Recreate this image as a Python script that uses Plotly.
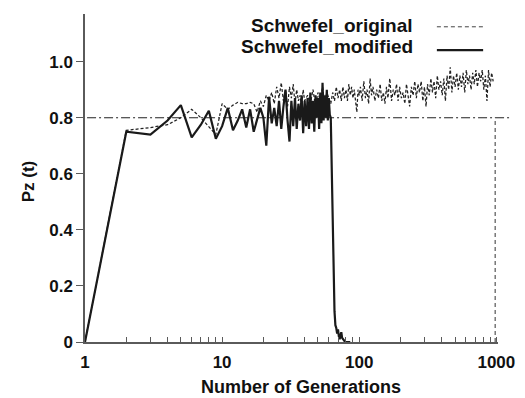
import plotly.graph_objects as go

# ---------------- data ----------------
gens_modified = list(range(1, 87))
pz_modified = [
    0.0, 0.75, 0.74, 0.79, 0.845, 0.73, 0.775, 0.825, 0.725, 0.77,
    0.835, 0.755, 0.79, 0.83, 0.765, 0.83, 0.75, 0.79, 0.835, 0.80,
    0.70, 0.875, 0.78, 0.835, 0.77, 0.86, 0.76, 0.84, 0.90, 0.79,
    0.715, 0.86, 0.77, 0.87, 0.76, 0.85, 0.79, 0.88, 0.745, 0.86,
    0.77, 0.87, 0.76, 0.89, 0.78, 0.86, 0.75, 0.88, 0.80, 0.87,
    0.76, 0.89, 0.78, 0.925, 0.79, 0.88, 0.80, 0.90, 0.79, 0.87,
    0.81, 0.80, 0.60, 0.40, 0.22, 0.11, 0.06, 0.05, 0.03, 0.045,
    0.02, 0.01, 0.025, 0.035, 0.015, 0.01, 0.005, 0.0, 0.0, 0.0,
    0.0, 0.0, 0.0, 0.0, 0.0, 0.0,
]

gens_original = [
    1, 2, 3, 4, 5, 6, 7, 8, 9, 10,
    11, 12, 13, 14, 15, 16, 17, 18, 19, 20,
    21, 22, 23, 24, 25, 26, 27, 28, 29, 30,
    31, 32, 33, 34, 35, 36, 37, 38, 39, 40,
    42, 44, 46, 48, 50, 52, 54, 56, 58, 60,
    62, 64, 66, 68, 70, 72, 74, 76, 78, 80,
    82, 84, 86, 88, 90, 92, 94, 96, 98, 100,
    102, 105, 108, 111, 114, 117, 120, 123, 126, 130,
    134, 138, 142, 146, 150, 154, 158, 162, 167, 172,
    177, 182, 187, 192, 197, 203, 209, 215, 221, 227,
    233, 240, 247, 254, 261, 268, 275, 283, 291, 299,
    307, 315, 324, 333, 342, 351, 361, 371, 381, 392,
    403, 414, 425, 437, 449, 461, 474, 487, 500, 514,
    528, 542, 557, 572, 588, 604, 620, 637, 654, 672,
    690, 709, 728, 748, 768, 789, 810, 832, 854, 877,
    900, 924, 948,
]
pz_original = [
    0.0, 0.755, 0.765, 0.775, 0.80, 0.83, 0.80, 0.77, 0.74, 0.85,
    0.83, 0.845, 0.855, 0.85, 0.85, 0.855, 0.85, 0.82, 0.86, 0.84,
    0.88, 0.86, 0.89, 0.85, 0.91, 0.87, 0.925, 0.86, 0.90, 0.84,
    0.91, 0.87, 0.92, 0.85, 0.90, 0.86, 0.88, 0.84, 0.90, 0.86,
    0.88, 0.85, 0.90, 0.84, 0.89, 0.86, 0.91, 0.85, 0.89, 0.87,
    0.85, 0.89, 0.86, 0.91, 0.87, 0.90, 0.86, 0.91, 0.87, 0.90,
    0.86, 0.92, 0.88, 0.91, 0.87, 0.90, 0.85, 0.82, 0.90, 0.88,
    0.91, 0.86, 0.93, 0.87, 0.90, 0.85, 0.94, 0.88, 0.91, 0.86,
    0.90, 0.87, 0.92, 0.86, 0.89, 0.85, 0.91, 0.87, 0.94, 0.86,
    0.90, 0.88, 0.92, 0.86, 0.91, 0.87, 0.89, 0.85, 0.92, 0.87,
    0.84, 0.91, 0.88, 0.93, 0.87, 0.92, 0.89, 0.93, 0.86, 0.91,
    0.84, 0.92, 0.88, 0.94, 0.89, 0.93, 0.87, 0.95, 0.90, 0.93,
    0.88, 0.94, 0.86, 0.95, 0.90, 0.98, 0.89, 0.95, 0.91, 0.96,
    0.90, 0.95, 0.91, 0.96, 0.89, 0.97, 0.92, 0.95, 0.90, 0.96,
    0.92, 0.97, 0.91, 0.96, 0.93, 0.97, 0.90, 0.95, 0.86, 0.97,
    0.91, 0.96, 0.93,
]

threshold = 0.8
last_generation = 980

x_tick_vals = [1, 10, 100, 1000]
x_tick_text = ["1", "10", "100", "1000"]
x_minor_vals = [2, 3, 4, 5, 6, 7, 8, 9, 20, 30, 40, 50, 60, 70, 80, 90,
                200, 300, 400, 500, 600, 700, 800, 900]
y_tick_vals = [0, 0.2, 0.4, 0.6, 0.8, 1.0]
y_tick_text = ["0", "0.2", "0.4", "0.6", "0.8", "1.0"]

series_names = ["Schwefel_original", "Schwefel_modified"]

# ---------------- figure ----------------
FONT = "Liberation Sans, Arial, Helvetica, sans-serif"
AXIS_COLOR = "#5a5a5a"

fig = go.Figure()

fig.add_trace(go.Scatter(
    x=gens_original, y=pz_original, mode="lines", name=series_names[0],
    line=dict(color="#222", width=1.25, dash="3px,2px"), showlegend=False,
))
fig.add_trace(go.Scatter(
    x=gens_modified, y=pz_modified, mode="lines", name=series_names[1],
    line=dict(color="#1a1a1a", width=2.2), showlegend=False,
))

# threshold line and final generation marker
fig.add_shape(type="line", xref="paper", yref="y", x0=0.005, x1=1.03,
              y0=threshold, y1=threshold, layer="below",
              line=dict(color="#222", width=1.2, dash="9px,3px,2px,3px"))
fig.add_shape(type="line", xref="x", yref="y", x0=last_generation, x1=last_generation,
              y0=0, y1=threshold, layer="below",
              line=dict(color="#333", width=1, dash="4px,3px"))

# custom legend (text left, sample right)
legend_y = [0.966, 0.902]
for name, yy in zip(series_names, legend_y):
    fig.add_annotation(xref="paper", yref="paper", x=0.80, y=yy, xanchor="right",
                       yanchor="middle", text=name, showarrow=False,
                       font=dict(family=FONT, size=19, color="#111", weight="bold"))
fig.add_shape(type="line", xref="paper", yref="paper", x0=0.852, x1=0.964,
              y0=0.961, y1=0.961, line=dict(color="#444", width=1, dash="4px,3px"))
fig.add_shape(type="line", xref="paper", yref="paper", x0=0.852, x1=0.964,
              y0=0.890, y1=0.890, line=dict(color="#1a1a1a", width=2.2))

# axis titles
fig.add_annotation(xref="paper", yref="paper", x=0.523, y=-0.137, xanchor="center",
                   yanchor="middle", text="Number of Generations", showarrow=False,
                   font=dict(family=FONT, size=18, color="#111", weight="bold"))
fig.add_annotation(xref="paper", yref="paper", x=-0.138, y=0.49, xanchor="center",
                   yanchor="middle", text="Pz (t)", showarrow=False, textangle=-90,
                   font=dict(family=FONT, size=17, color="#111", weight="bold"))

fig.update_layout(
    width=517, height=390,
    margin=dict(l=77, r=27, t=6, b=56),
    paper_bgcolor="white", plot_bgcolor="white",
    font=dict(family=FONT, size=17, color="#111", weight="bold"),
    xaxis=dict(
        type="log", range=[0, 3.012],
        tickvals=x_tick_vals, ticktext=x_tick_text,
        ticks="inside", ticklen=5, tickwidth=1, tickcolor=AXIS_COLOR,
        minor=dict(ticks="inside", ticklen=5, tickwidth=1, tickcolor=AXIS_COLOR,
                   tickvals=x_minor_vals),
        showline=True, linecolor=AXIS_COLOR, linewidth=1.5,
        showgrid=False, zeroline=False, ticklabelstandoff=4,
        tickfont=dict(family=FONT, size=17, color="#111", weight="bold"),
    ),
    yaxis=dict(
        range=[0, 1.17],
        tickvals=y_tick_vals, ticktext=y_tick_text,
        ticks="outside", ticklen=7, tickwidth=1, tickcolor=AXIS_COLOR,
        showline=True, linecolor=AXIS_COLOR, linewidth=1.5,
        showgrid=False, zeroline=False,
        tickfont=dict(family=FONT, size=17, color="#111", weight="bold"),
    ),
)

fig.write_html("out.html")
